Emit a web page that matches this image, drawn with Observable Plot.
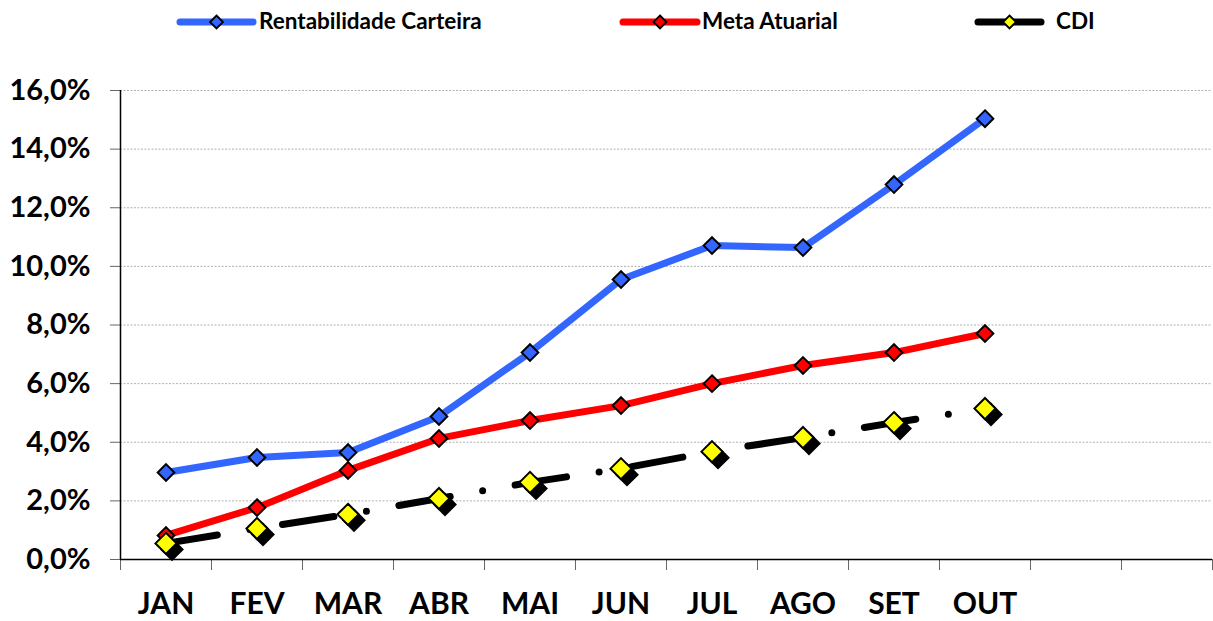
<!DOCTYPE html>
<html><head><meta charset="utf-8">
<script src="https://cdn.jsdelivr.net/npm/d3@7"></script>
<script src="https://cdn.jsdelivr.net/npm/@observablehq/plot@0.6"></script>
<style>
body{margin:0;background:#fff;font-family:Lato,"Open Sans",sans-serif;}
#legend{position:relative;height:45px;width:1213px;}
.item{position:absolute;top:0;height:45px;}
.item span{position:absolute;top:7px;font-weight:bold;font-size:22.5px;white-space:nowrap;color:#000;}
</style></head><body>
<div id="legend"></div>
<div id="chart"></div>
<script>
const months = ["JAN","FEV","MAR","ABR","MAI","JUN","JUL","AGO","SET","OUT"];
const slotCount = 12;
const carteira = [2.97,3.48,3.65,4.88,7.06,9.55,10.71,10.64,12.79,15.04];
const meta = [0.82,1.77,3.04,4.13,4.74,5.25,6.00,6.62,7.06,7.71];
const cdi = [0.55,1.06,1.54,2.08,2.63,3.10,3.68,4.16,4.67,5.15];
const yTicks = [0,2,4,6,8,10,12,14,16];
const seriesNames = ["Rentabilidade Carteira","Meta Atuarial","CDI"];
const lineColors = ["#3366ff","#ff0000","#000000"];
const markerColors = ["#3366ff","#ff0000","#ffff00"];

// legend
const legendPos = [{x:180,w:73,t:259},{x:623,w:74,t:702},{x:978,w:63,t:1056}];
const legend = document.getElementById("legend");
seriesNames.forEach((name,k)=>{
  const p = legendPos[k];
  const div = document.createElement("div");
  div.className="item"; div.style.left="0px"; div.style.width="1213px";
  const cx = p.x + p.w/2;
  div.innerHTML = `<svg width="1213" height="45" style="position:absolute;left:0;top:0">
    <line x1="${p.x}" y1="22" x2="${p.x+p.w}" y2="22" stroke="${lineColors[k]}" stroke-width="7" stroke-linecap="round"/>
    <path d="M${cx},${22-6.5}L${cx+6.5},22L${cx},${22+6.5}L${cx-6.5},22Z" fill="${markerColors[k]}" stroke="#000" stroke-width="1.8"/>
  </svg><span style="left:${p.t}px">${name}</span>`;
  legend.appendChild(div);
});

const rows = vals => months.map((m,i)=>({i:i+0.5, m, v:vals[i]}));
const fmt = d => d.toFixed(1).replace(".",",")+"%";

const chart = Plot.plot({
  width:1213, height:576,
  marginTop:45, marginBottom:62, marginLeft:120, marginRight:1,
  style:{fontFamily:"Lato, 'Open Sans', sans-serif", fontWeight:"bold", background:"#fff", color:"#000"},
  x:{domain:[0,slotCount], axis:null},
  y:{domain:[0,16], axis:null},
  marks:[
    Plot.ruleY(yTicks.filter(d=>d>0), {stroke:"#b0b0b0", strokeDasharray:"2,1.5", strokeWidth:1}),
    Plot.axisY({ticks:yTicks, tickSize:10, tickPadding:20, tickFormat:fmt, fontSize:29, fontWeight:"bold", stroke:"#666", fill:"#000", label:null}),
    Plot.axisX({ticks:d3.range(slotCount+1), tickSize:11, tickFormat:()=>"", stroke:"#666", label:null}),
    Plot.axisX({ticks:months.map((_,i)=>i+0.5), tickSize:0, tickPadding:33, tickFormat:d=>months[Math.floor(d)], fontSize:30, fontWeight:"bold", fill:"#000", label:null}),
    Plot.ruleX([0], {y1:0, y2:16, stroke:"#000", strokeWidth:1.5}),
    Plot.ruleY([0], {stroke:"#000", strokeWidth:1.5}),
    Plot.line(rows(carteira), {x:"i", y:"v", stroke:lineColors[0], strokeWidth:7, strokeLinejoin:"round"}),
    Plot.dot(rows(carteira), {x:"i", y:"v", symbol:"diamond2", r:7.5, fill:markerColors[0], stroke:"#000", strokeWidth:2}),
    Plot.line(rows(meta), {x:"i", y:"v", stroke:lineColors[1], strokeWidth:7, strokeLinejoin:"round"}),
    Plot.dot(rows(meta), {x:"i", y:"v", symbol:"diamond2", r:7.5, fill:markerColors[1], stroke:"#000", strokeWidth:2}),
    Plot.line(rows(cdi), {x:"i", y:"v", stroke:lineColors[2], strokeWidth:7, strokeLinecap:"round", strokeDasharray:"52,33,0,33"}),
    Plot.dot(rows(cdi), {x:"i", y:"v", symbol:"diamond2", r:9.5, fill:"#000", stroke:"#000", strokeWidth:2, dx:6, dy:6}),
    Plot.dot(rows(cdi), {x:"i", y:"v", symbol:"diamond2", r:9.5, fill:markerColors[2], stroke:"#000", strokeWidth:2})
  ]
});
document.getElementById("chart").appendChild(chart);
</script>
</body></html>
